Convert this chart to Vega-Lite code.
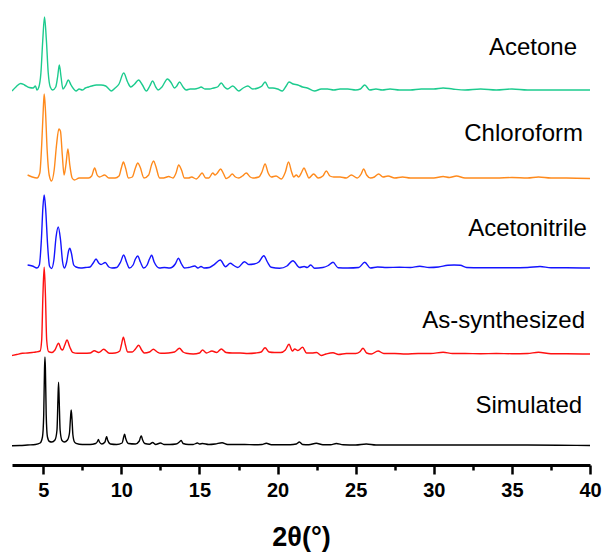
{
  "$schema": "https://vega.github.io/schema/vega-lite/v6.json",
  "autosize": {"type": "none"},
  "width": 578,
  "height": 455,
  "padding": {"left": 12, "top": 10, "right": 15, "bottom": 93},
  "background": "white",
  "config": {"view": {"stroke": null}, "font": "Liberation Sans"},
  "datasets": {
    "labels": [
      {"label": "Acetone", "x": 39.17, "y": 417},
      {"label": "Chloroform", "x": 39.55, "y": 331},
      {"label": "Acetonitrile", "x": 39.8, "y": 236},
      {"label": "As-synthesized", "x": 39.68, "y": 144},
      {"label": "Simulated", "x": 39.5, "y": 59}
    ],
    "xrd": [
      {"s":"Acetone","x":3.0,"y":374},{"s":"Acetone","x":3.25,"y":378},{"s":"Acetone","x":3.55,"y":381.5},{"s":"Acetone","x":3.8,"y":380},{"s":"Acetone","x":4.1,"y":377.5},{"s":"Acetone","x":4.35,"y":377},{"s":"Acetone","x":4.5,"y":379},{"s":"Acetone","x":4.6,"y":375},{"s":"Acetone","x":4.72,"y":378},{"s":"Acetone","x":4.85,"y":392},{"s":"Acetone","x":4.97,"y":425},{"s":"Acetone","x":5.08,"y":448},{"s":"Acetone","x":5.2,"y":425},{"s":"Acetone","x":5.32,"y":392},{"s":"Acetone","x":5.45,"y":378},{"s":"Acetone","x":5.6,"y":375},{"s":"Acetone","x":5.8,"y":378},{"s":"Acetone","x":5.92,"y":388},{"s":"Acetone","x":6.03,"y":400},{"s":"Acetone","x":6.14,"y":388},{"s":"Acetone","x":6.26,"y":376},{"s":"Acetone","x":6.45,"y":380},{"s":"Acetone","x":6.6,"y":385},{"s":"Acetone","x":6.78,"y":380},{"s":"Acetone","x":6.95,"y":376},{"s":"Acetone","x":7.1,"y":374},{"s":"Acetone","x":7.3,"y":376},{"s":"Acetone","x":7.5,"y":375},{"s":"Acetone","x":7.7,"y":377},{"s":"Acetone","x":7.9,"y":378},{"s":"Acetone","x":8.1,"y":379},{"s":"Acetone","x":8.4,"y":380},{"s":"Acetone","x":8.7,"y":380},{"s":"Acetone","x":9.0,"y":379},{"s":"Acetone","x":9.2,"y":376},{"s":"Acetone","x":9.35,"y":374},{"s":"Acetone","x":9.6,"y":377},{"s":"Acetone","x":9.85,"y":381},{"s":"Acetone","x":10.15,"y":392},{"s":"Acetone","x":10.4,"y":383},{"s":"Acetone","x":10.6,"y":378},{"s":"Acetone","x":10.85,"y":381},{"s":"Acetone","x":11.1,"y":385},{"s":"Acetone","x":11.35,"y":380},{"s":"Acetone","x":11.6,"y":374},{"s":"Acetone","x":11.82,"y":379},{"s":"Acetone","x":12.0,"y":384},{"s":"Acetone","x":12.2,"y":378},{"s":"Acetone","x":12.35,"y":375},{"s":"Acetone","x":12.6,"y":378},{"s":"Acetone","x":12.95,"y":386},{"s":"Acetone","x":13.2,"y":382},{"s":"Acetone","x":13.4,"y":377},{"s":"Acetone","x":13.55,"y":379},{"s":"Acetone","x":13.72,"y":383},{"s":"Acetone","x":13.95,"y":378},{"s":"Acetone","x":14.15,"y":375},{"s":"Acetone","x":14.4,"y":376},{"s":"Acetone","x":14.7,"y":376},{"s":"Acetone","x":14.95,"y":377},{"s":"Acetone","x":15.1,"y":378},{"s":"Acetone","x":15.35,"y":376},{"s":"Acetone","x":15.65,"y":376},{"s":"Acetone","x":15.9,"y":377},{"s":"Acetone","x":16.15,"y":378},{"s":"Acetone","x":16.4,"y":382},{"s":"Acetone","x":16.6,"y":378},{"s":"Acetone","x":16.8,"y":376},{"s":"Acetone","x":17.13,"y":379},{"s":"Acetone","x":17.52,"y":374},{"s":"Acetone","x":17.8,"y":377},{"s":"Acetone","x":18.1,"y":379},{"s":"Acetone","x":18.4,"y":376},{"s":"Acetone","x":18.75,"y":377},{"s":"Acetone","x":19.0,"y":379},{"s":"Acetone","x":19.2,"y":383},{"s":"Acetone","x":19.45,"y":377},{"s":"Acetone","x":19.7,"y":377},{"s":"Acetone","x":20.0,"y":376},{"s":"Acetone","x":20.3,"y":374},{"s":"Acetone","x":20.55,"y":379},{"s":"Acetone","x":20.73,"y":383},{"s":"Acetone","x":21.0,"y":381},{"s":"Acetone","x":21.3,"y":380},{"s":"Acetone","x":21.6,"y":378},{"s":"Acetone","x":21.9,"y":377},{"s":"Acetone","x":22.37,"y":374},{"s":"Acetone","x":22.8,"y":376},{"s":"Acetone","x":23.2,"y":376},{"s":"Acetone","x":23.6,"y":375},{"s":"Acetone","x":24.0,"y":376},{"s":"Acetone","x":24.5,"y":376},{"s":"Acetone","x":25.0,"y":375},{"s":"Acetone","x":25.3,"y":376},{"s":"Acetone","x":25.58,"y":380},{"s":"Acetone","x":25.9,"y":375},{"s":"Acetone","x":26.3,"y":376},{"s":"Acetone","x":26.7,"y":375},{"s":"Acetone","x":27.2,"y":376},{"s":"Acetone","x":27.8,"y":375},{"s":"Acetone","x":28.5,"y":375},{"s":"Acetone","x":29.2,"y":376},{"s":"Acetone","x":30.0,"y":376},{"s":"Acetone","x":30.6,"y":377},{"s":"Acetone","x":31.2,"y":376},{"s":"Acetone","x":32.0,"y":375},{"s":"Acetone","x":33.0,"y":376},{"s":"Acetone","x":34.0,"y":375},{"s":"Acetone","x":35.0,"y":376},{"s":"Acetone","x":36.0,"y":375},{"s":"Acetone","x":37.0,"y":375},{"s":"Acetone","x":38.0,"y":375},{"s":"Acetone","x":39.0,"y":375},{"s":"Acetone","x":40.0,"y":375},

      {"s":"Chloroform","x":4.0,"y":290},{"s":"Chloroform","x":4.3,"y":288},{"s":"Chloroform","x":4.6,"y":287},{"s":"Chloroform","x":4.78,"y":292},{"s":"Chloroform","x":4.9,"y":320},{"s":"Chloroform","x":5.0,"y":355},{"s":"Chloroform","x":5.06,"y":371},{"s":"Chloroform","x":5.14,"y":355},{"s":"Chloroform","x":5.25,"y":315},{"s":"Chloroform","x":5.38,"y":290},{"s":"Chloroform","x":5.53,"y":284},{"s":"Chloroform","x":5.7,"y":295},{"s":"Chloroform","x":5.85,"y":320},{"s":"Chloroform","x":6.0,"y":336},{"s":"Chloroform","x":6.1,"y":334},{"s":"Chloroform","x":6.22,"y":310},{"s":"Chloroform","x":6.33,"y":290},{"s":"Chloroform","x":6.45,"y":300},{"s":"Chloroform","x":6.58,"y":316},{"s":"Chloroform","x":6.7,"y":300},{"s":"Chloroform","x":6.85,"y":287},{"s":"Chloroform","x":7.0,"y":285},{"s":"Chloroform","x":7.3,"y":287},{"s":"Chloroform","x":7.6,"y":287},{"s":"Chloroform","x":7.9,"y":287},{"s":"Chloroform","x":8.1,"y":289},{"s":"Chloroform","x":8.29,"y":297},{"s":"Chloroform","x":8.45,"y":290},{"s":"Chloroform","x":8.6,"y":288},{"s":"Chloroform","x":8.93,"y":290},{"s":"Chloroform","x":9.2,"y":287},{"s":"Chloroform","x":9.6,"y":287},{"s":"Chloroform","x":9.85,"y":289},{"s":"Chloroform","x":10.0,"y":297},{"s":"Chloroform","x":10.13,"y":303},{"s":"Chloroform","x":10.27,"y":297},{"s":"Chloroform","x":10.45,"y":287},{"s":"Chloroform","x":10.7,"y":288},{"s":"Chloroform","x":10.9,"y":297},{"s":"Chloroform","x":11.05,"y":302},{"s":"Chloroform","x":11.2,"y":298},{"s":"Chloroform","x":11.45,"y":287},{"s":"Chloroform","x":11.75,"y":290},{"s":"Chloroform","x":11.95,"y":301},{"s":"Chloroform","x":12.07,"y":304},{"s":"Chloroform","x":12.2,"y":299},{"s":"Chloroform","x":12.45,"y":287},{"s":"Chloroform","x":12.7,"y":287},{"s":"Chloroform","x":13.03,"y":288.5},{"s":"Chloroform","x":13.3,"y":287},{"s":"Chloroform","x":13.5,"y":292},{"s":"Chloroform","x":13.67,"y":300},{"s":"Chloroform","x":13.85,"y":295},{"s":"Chloroform","x":14.04,"y":287},{"s":"Chloroform","x":14.3,"y":287},{"s":"Chloroform","x":14.5,"y":288},{"s":"Chloroform","x":14.8,"y":286},{"s":"Chloroform","x":15.0,"y":289},{"s":"Chloroform","x":15.17,"y":292},{"s":"Chloroform","x":15.4,"y":287},{"s":"Chloroform","x":15.6,"y":287},{"s":"Chloroform","x":15.85,"y":292},{"s":"Chloroform","x":16.0,"y":290},{"s":"Chloroform","x":16.15,"y":292},{"s":"Chloroform","x":16.35,"y":296},{"s":"Chloroform","x":16.55,"y":291},{"s":"Chloroform","x":16.71,"y":286.5},{"s":"Chloroform","x":16.9,"y":288},{"s":"Chloroform","x":17.1,"y":291},{"s":"Chloroform","x":17.3,"y":288},{"s":"Chloroform","x":17.52,"y":287},{"s":"Chloroform","x":17.75,"y":289},{"s":"Chloroform","x":18.0,"y":292},{"s":"Chloroform","x":18.25,"y":288},{"s":"Chloroform","x":18.42,"y":287},{"s":"Chloroform","x":18.8,"y":288},{"s":"Chloroform","x":19.0,"y":293},{"s":"Chloroform","x":19.2,"y":301},{"s":"Chloroform","x":19.4,"y":292},{"s":"Chloroform","x":19.6,"y":288},{"s":"Chloroform","x":19.9,"y":289},{"s":"Chloroform","x":20.24,"y":286},{"s":"Chloroform","x":20.5,"y":293},{"s":"Chloroform","x":20.7,"y":303},{"s":"Chloroform","x":20.9,"y":293},{"s":"Chloroform","x":21.03,"y":288},{"s":"Chloroform","x":21.2,"y":290},{"s":"Chloroform","x":21.35,"y":288},{"s":"Chloroform","x":21.55,"y":293},{"s":"Chloroform","x":21.69,"y":297},{"s":"Chloroform","x":21.85,"y":292},{"s":"Chloroform","x":22.0,"y":287},{"s":"Chloroform","x":22.31,"y":291},{"s":"Chloroform","x":22.6,"y":287},{"s":"Chloroform","x":22.9,"y":289},{"s":"Chloroform","x":23.12,"y":294},{"s":"Chloroform","x":23.35,"y":289},{"s":"Chloroform","x":23.6,"y":288},{"s":"Chloroform","x":24.0,"y":288},{"s":"Chloroform","x":24.4,"y":287},{"s":"Chloroform","x":24.72,"y":290},{"s":"Chloroform","x":25.1,"y":287},{"s":"Chloroform","x":25.35,"y":291},{"s":"Chloroform","x":25.51,"y":296},{"s":"Chloroform","x":25.7,"y":290},{"s":"Chloroform","x":25.95,"y":287},{"s":"Chloroform","x":26.2,"y":288},{"s":"Chloroform","x":26.47,"y":291},{"s":"Chloroform","x":26.75,"y":288},{"s":"Chloroform","x":27.07,"y":289},{"s":"Chloroform","x":27.5,"y":287},{"s":"Chloroform","x":28.0,"y":288},{"s":"Chloroform","x":28.5,"y":287},{"s":"Chloroform","x":29.2,"y":287},{"s":"Chloroform","x":30.0,"y":287},{"s":"Chloroform","x":30.6,"y":288.5},{"s":"Chloroform","x":31.0,"y":287.5},{"s":"Chloroform","x":31.45,"y":289},{"s":"Chloroform","x":32.0,"y":287},{"s":"Chloroform","x":33.0,"y":287},{"s":"Chloroform","x":34.0,"y":287},{"s":"Chloroform","x":35.0,"y":287.5},{"s":"Chloroform","x":36.0,"y":287},{"s":"Chloroform","x":36.7,"y":288},{"s":"Chloroform","x":37.5,"y":287},{"s":"Chloroform","x":38.5,"y":287},{"s":"Chloroform","x":40.0,"y":286.5},

      {"s":"Acetonitrile","x":4.0,"y":200},{"s":"Acetonitrile","x":4.3,"y":199},{"s":"Acetonitrile","x":4.6,"y":197},{"s":"Acetonitrile","x":4.75,"y":200},{"s":"Acetonitrile","x":4.88,"y":225},{"s":"Acetonitrile","x":4.98,"y":258},{"s":"Acetonitrile","x":5.06,"y":270},{"s":"Acetonitrile","x":5.15,"y":257},{"s":"Acetonitrile","x":5.28,"y":220},{"s":"Acetonitrile","x":5.4,"y":199},{"s":"Acetonitrile","x":5.53,"y":196.5},{"s":"Acetonitrile","x":5.68,"y":205},{"s":"Acetonitrile","x":5.82,"y":228},{"s":"Acetonitrile","x":5.96,"y":238},{"s":"Acetonitrile","x":6.1,"y":226},{"s":"Acetonitrile","x":6.24,"y":203},{"s":"Acetonitrile","x":6.35,"y":197},{"s":"Acetonitrile","x":6.5,"y":203},{"s":"Acetonitrile","x":6.62,"y":214},{"s":"Acetonitrile","x":6.7,"y":216.7},{"s":"Acetonitrile","x":6.8,"y":212},{"s":"Acetonitrile","x":6.95,"y":200},{"s":"Acetonitrile","x":7.1,"y":198},{"s":"Acetonitrile","x":7.4,"y":197},{"s":"Acetonitrile","x":7.7,"y":197.5},{"s":"Acetonitrile","x":8.0,"y":198},{"s":"Acetonitrile","x":8.2,"y":202},{"s":"Acetonitrile","x":8.38,"y":206},{"s":"Acetonitrile","x":8.55,"y":202},{"s":"Acetonitrile","x":8.7,"y":200.5},{"s":"Acetonitrile","x":8.97,"y":202.5},{"s":"Acetonitrile","x":9.2,"y":198},{"s":"Acetonitrile","x":9.4,"y":197},{"s":"Acetonitrile","x":9.7,"y":197.5},{"s":"Acetonitrile","x":9.95,"y":203},{"s":"Acetonitrile","x":10.15,"y":210},{"s":"Acetonitrile","x":10.33,"y":203},{"s":"Acetonitrile","x":10.51,"y":197},{"s":"Acetonitrile","x":10.75,"y":200},{"s":"Acetonitrile","x":10.9,"y":206},{"s":"Acetonitrile","x":11.05,"y":209},{"s":"Acetonitrile","x":11.22,"y":203},{"s":"Acetonitrile","x":11.43,"y":197},{"s":"Acetonitrile","x":11.65,"y":200},{"s":"Acetonitrile","x":11.8,"y":206},{"s":"Acetonitrile","x":11.94,"y":209.7},{"s":"Acetonitrile","x":12.1,"y":203},{"s":"Acetonitrile","x":12.44,"y":197},{"s":"Acetonitrile","x":12.75,"y":197.5},{"s":"Acetonitrile","x":13.1,"y":197},{"s":"Acetonitrile","x":13.45,"y":201},{"s":"Acetonitrile","x":13.65,"y":206.7},{"s":"Acetonitrile","x":13.85,"y":201},{"s":"Acetonitrile","x":14.04,"y":197},{"s":"Acetonitrile","x":14.3,"y":197.5},{"s":"Acetonitrile","x":14.7,"y":199},{"s":"Acetonitrile","x":14.9,"y":197},{"s":"Acetonitrile","x":15.1,"y":198.5},{"s":"Acetonitrile","x":15.3,"y":197},{"s":"Acetonitrile","x":15.64,"y":197.5},{"s":"Acetonitrile","x":15.96,"y":200.7},{"s":"Acetonitrile","x":16.33,"y":205},{"s":"Acetonitrile","x":16.67,"y":198.3},{"s":"Acetonitrile","x":16.97,"y":201.7},{"s":"Acetonitrile","x":17.2,"y":199.5},{"s":"Acetonitrile","x":17.46,"y":197.5},{"s":"Acetonitrile","x":17.88,"y":203.3},{"s":"Acetonitrile","x":18.15,"y":200.5},{"s":"Acetonitrile","x":18.5,"y":201},{"s":"Acetonitrile","x":18.8,"y":203},{"s":"Acetonitrile","x":19.12,"y":209.3},{"s":"Acetonitrile","x":19.35,"y":203},{"s":"Acetonitrile","x":19.59,"y":197.7},{"s":"Acetonitrile","x":20.13,"y":196.7},{"s":"Acetonitrile","x":20.6,"y":199},{"s":"Acetonitrile","x":20.98,"y":204.3},{"s":"Acetonitrile","x":21.41,"y":197.5},{"s":"Acetonitrile","x":21.7,"y":198.5},{"s":"Acetonitrile","x":21.9,"y":197.5},{"s":"Acetonitrile","x":22.12,"y":200},{"s":"Acetonitrile","x":22.37,"y":196.7},{"s":"Acetonitrile","x":22.9,"y":197.5},{"s":"Acetonitrile","x":23.25,"y":199.5},{"s":"Acetonitrile","x":23.55,"y":202.7},{"s":"Acetonitrile","x":23.87,"y":197.3},{"s":"Acetonitrile","x":24.5,"y":197},{"s":"Acetonitrile","x":25.2,"y":197.5},{"s":"Acetonitrile","x":25.58,"y":202.7},{"s":"Acetonitrile","x":25.94,"y":197},{"s":"Acetonitrile","x":26.4,"y":198},{"s":"Acetonitrile","x":27.0,"y":197.5},{"s":"Acetonitrile","x":27.8,"y":197.7},{"s":"Acetonitrile","x":28.5,"y":197.5},{"s":"Acetonitrile","x":29.1,"y":198.7},{"s":"Acetonitrile","x":29.7,"y":197.5},{"s":"Acetonitrile","x":30.3,"y":198},{"s":"Acetonitrile","x":30.9,"y":199.7},{"s":"Acetonitrile","x":31.3,"y":200},{"s":"Acetonitrile","x":31.7,"y":199.7},{"s":"Acetonitrile","x":32.1,"y":197.5},{"s":"Acetonitrile","x":33.0,"y":197.3},{"s":"Acetonitrile","x":34.0,"y":197.3},{"s":"Acetonitrile","x":35.0,"y":197.3},{"s":"Acetonitrile","x":36.0,"y":197.5},{"s":"Acetonitrile","x":36.8,"y":198.5},{"s":"Acetonitrile","x":37.5,"y":197.3},{"s":"Acetonitrile","x":38.5,"y":197.3},{"s":"Acetonitrile","x":40.0,"y":197},

      {"s":"As-synthesized","x":3.0,"y":109.5},{"s":"As-synthesized","x":3.3,"y":110.5},{"s":"As-synthesized","x":3.67,"y":111.7},{"s":"As-synthesized","x":4.0,"y":112},{"s":"As-synthesized","x":4.3,"y":112.5},{"s":"As-synthesized","x":4.53,"y":113},{"s":"As-synthesized","x":4.8,"y":114},{"s":"As-synthesized","x":4.9,"y":125},{"s":"As-synthesized","x":4.98,"y":170},{"s":"As-synthesized","x":5.06,"y":197.7},{"s":"As-synthesized","x":5.14,"y":170},{"s":"As-synthesized","x":5.22,"y":125},{"s":"As-synthesized","x":5.34,"y":113.3},{"s":"As-synthesized","x":5.55,"y":112.5},{"s":"As-synthesized","x":5.75,"y":115},{"s":"As-synthesized","x":5.98,"y":121.7},{"s":"As-synthesized","x":6.14,"y":116},{"s":"As-synthesized","x":6.24,"y":115},{"s":"As-synthesized","x":6.38,"y":120},{"s":"As-synthesized","x":6.52,"y":125},{"s":"As-synthesized","x":6.7,"y":118},{"s":"As-synthesized","x":6.88,"y":112.7},{"s":"As-synthesized","x":7.2,"y":111.7},{"s":"As-synthesized","x":7.6,"y":111.7},{"s":"As-synthesized","x":8.0,"y":112},{"s":"As-synthesized","x":8.27,"y":114.3},{"s":"As-synthesized","x":8.55,"y":112.5},{"s":"As-synthesized","x":8.87,"y":115.7},{"s":"As-synthesized","x":9.23,"y":111.7},{"s":"As-synthesized","x":9.6,"y":112},{"s":"As-synthesized","x":9.9,"y":114},{"s":"As-synthesized","x":10.0,"y":120},{"s":"As-synthesized","x":10.13,"y":127.7},{"s":"As-synthesized","x":10.26,"y":120},{"s":"As-synthesized","x":10.4,"y":113},{"s":"As-synthesized","x":10.7,"y":113},{"s":"As-synthesized","x":10.9,"y":116},{"s":"As-synthesized","x":11.11,"y":119.7},{"s":"As-synthesized","x":11.3,"y":115},{"s":"As-synthesized","x":11.47,"y":112},{"s":"As-synthesized","x":11.8,"y":113},{"s":"As-synthesized","x":12.05,"y":115.7},{"s":"As-synthesized","x":12.3,"y":113},{"s":"As-synthesized","x":12.54,"y":111.7},{"s":"As-synthesized","x":13.0,"y":112},{"s":"As-synthesized","x":13.4,"y":113},{"s":"As-synthesized","x":13.72,"y":116.7},{"s":"As-synthesized","x":13.95,"y":113},{"s":"As-synthesized","x":14.15,"y":111.7},{"s":"As-synthesized","x":14.6,"y":111},{"s":"As-synthesized","x":15.0,"y":112},{"s":"As-synthesized","x":15.2,"y":115},{"s":"As-synthesized","x":15.45,"y":112},{"s":"As-synthesized","x":15.8,"y":114},{"s":"As-synthesized","x":16.1,"y":112.5},{"s":"As-synthesized","x":16.4,"y":116},{"s":"As-synthesized","x":16.7,"y":112.5},{"s":"As-synthesized","x":17.1,"y":112},{"s":"As-synthesized","x":17.6,"y":112},{"s":"As-synthesized","x":18.1,"y":111.5},{"s":"As-synthesized","x":18.6,"y":112},{"s":"As-synthesized","x":18.95,"y":113},{"s":"As-synthesized","x":19.2,"y":117.3},{"s":"As-synthesized","x":19.45,"y":113},{"s":"As-synthesized","x":19.8,"y":112.5},{"s":"As-synthesized","x":20.2,"y":112.5},{"s":"As-synthesized","x":20.5,"y":115},{"s":"As-synthesized","x":20.73,"y":120.7},{"s":"As-synthesized","x":20.95,"y":114},{"s":"As-synthesized","x":21.1,"y":116},{"s":"As-synthesized","x":21.3,"y":114.5},{"s":"As-synthesized","x":21.6,"y":117.7},{"s":"As-synthesized","x":21.85,"y":112},{"s":"As-synthesized","x":22.2,"y":112},{"s":"As-synthesized","x":22.5,"y":112.5},{"s":"As-synthesized","x":22.8,"y":109.5},{"s":"As-synthesized","x":23.1,"y":111},{"s":"As-synthesized","x":23.55,"y":112.3},{"s":"As-synthesized","x":23.9,"y":110.5},{"s":"As-synthesized","x":24.4,"y":111.5},{"s":"As-synthesized","x":25.0,"y":111.5},{"s":"As-synthesized","x":25.25,"y":113},{"s":"As-synthesized","x":25.47,"y":116.7},{"s":"As-synthesized","x":25.7,"y":112},{"s":"As-synthesized","x":26.0,"y":111},{"s":"As-synthesized","x":26.43,"y":114},{"s":"As-synthesized","x":26.8,"y":111.5},{"s":"As-synthesized","x":27.5,"y":111.5},{"s":"As-synthesized","x":28.2,"y":111},{"s":"As-synthesized","x":29.0,"y":111.5},{"s":"As-synthesized","x":29.8,"y":111.5},{"s":"As-synthesized","x":30.6,"y":112.7},{"s":"As-synthesized","x":31.2,"y":111.5},{"s":"As-synthesized","x":32.0,"y":111.5},{"s":"As-synthesized","x":33.0,"y":111.3},{"s":"As-synthesized","x":34.0,"y":111.5},{"s":"As-synthesized","x":35.0,"y":111.3},{"s":"As-synthesized","x":36.0,"y":111.5},{"s":"As-synthesized","x":36.7,"y":112.7},{"s":"As-synthesized","x":37.5,"y":111.3},{"s":"As-synthesized","x":38.5,"y":111.3},{"s":"As-synthesized","x":40.0,"y":111},

      {"s":"Simulated","x":3.0,"y":19.3},{"s":"Simulated","x":3.5,"y":19.5},{"s":"Simulated","x":4.0,"y":20},{"s":"Simulated","x":4.5,"y":20.5},{"s":"Simulated","x":4.8,"y":22},{"s":"Simulated","x":4.95,"y":28},{"s":"Simulated","x":5.03,"y":50},{"s":"Simulated","x":5.08,"y":95},{"s":"Simulated","x":5.11,"y":108},{"s":"Simulated","x":5.14,"y":95},{"s":"Simulated","x":5.19,"y":50},{"s":"Simulated","x":5.27,"y":28},{"s":"Simulated","x":5.4,"y":23.5},{"s":"Simulated","x":5.55,"y":23},{"s":"Simulated","x":5.75,"y":25},{"s":"Simulated","x":5.88,"y":35},{"s":"Simulated","x":5.94,"y":65},{"s":"Simulated","x":5.98,"y":82.7},{"s":"Simulated","x":6.02,"y":65},{"s":"Simulated","x":6.08,"y":35},{"s":"Simulated","x":6.2,"y":24.5},{"s":"Simulated","x":6.35,"y":23},{"s":"Simulated","x":6.55,"y":25},{"s":"Simulated","x":6.68,"y":32},{"s":"Simulated","x":6.74,"y":46},{"s":"Simulated","x":6.79,"y":55},{"s":"Simulated","x":6.84,"y":46},{"s":"Simulated","x":6.9,"y":30},{"s":"Simulated","x":7.0,"y":23},{"s":"Simulated","x":7.1,"y":21.7},{"s":"Simulated","x":7.5,"y":20.5},{"s":"Simulated","x":8.0,"y":20.5},{"s":"Simulated","x":8.35,"y":21.5},{"s":"Simulated","x":8.47,"y":23.5},{"s":"Simulated","x":8.53,"y":25.5},{"s":"Simulated","x":8.6,"y":23},{"s":"Simulated","x":8.75,"y":21},{"s":"Simulated","x":8.95,"y":23},{"s":"Simulated","x":9.02,"y":27},{"s":"Simulated","x":9.06,"y":28.3},{"s":"Simulated","x":9.12,"y":25},{"s":"Simulated","x":9.3,"y":21},{"s":"Simulated","x":9.7,"y":20.5},{"s":"Simulated","x":10.05,"y":22},{"s":"Simulated","x":10.15,"y":28},{"s":"Simulated","x":10.21,"y":30.7},{"s":"Simulated","x":10.28,"y":26.5},{"s":"Simulated","x":10.45,"y":21.5},{"s":"Simulated","x":10.9,"y":21},{"s":"Simulated","x":11.15,"y":24},{"s":"Simulated","x":11.23,"y":28},{"s":"Simulated","x":11.28,"y":29},{"s":"Simulated","x":11.35,"y":25.5},{"s":"Simulated","x":11.5,"y":21.5},{"s":"Simulated","x":11.8,"y":20.8},{"s":"Simulated","x":12.0,"y":22.5},{"s":"Simulated","x":12.2,"y":20.5},{"s":"Simulated","x":12.5,"y":22},{"s":"Simulated","x":12.75,"y":20.5},{"s":"Simulated","x":13.1,"y":20.5},{"s":"Simulated","x":13.5,"y":21},{"s":"Simulated","x":13.75,"y":23.5},{"s":"Simulated","x":13.83,"y":24.5},{"s":"Simulated","x":13.95,"y":21.5},{"s":"Simulated","x":14.3,"y":20.5},{"s":"Simulated","x":14.6,"y":20.5},{"s":"Simulated","x":14.87,"y":22},{"s":"Simulated","x":15.0,"y":21},{"s":"Simulated","x":15.2,"y":21.5},{"s":"Simulated","x":15.6,"y":20.5},{"s":"Simulated","x":16.0,"y":21},{"s":"Simulated","x":16.45,"y":22.3},{"s":"Simulated","x":16.8,"y":20.5},{"s":"Simulated","x":17.3,"y":20.5},{"s":"Simulated","x":17.9,"y":20.5},{"s":"Simulated","x":18.5,"y":20.3},{"s":"Simulated","x":19.0,"y":20.5},{"s":"Simulated","x":19.28,"y":21.7},{"s":"Simulated","x":19.6,"y":20.3},{"s":"Simulated","x":20.2,"y":20.3},{"s":"Simulated","x":20.8,"y":20.3},{"s":"Simulated","x":21.2,"y":21},{"s":"Simulated","x":21.4,"y":23},{"s":"Simulated","x":21.6,"y":20.5},{"s":"Simulated","x":22.0,"y":20.3},{"s":"Simulated","x":22.48,"y":21.7},{"s":"Simulated","x":22.9,"y":20.3},{"s":"Simulated","x":23.4,"y":20.3},{"s":"Simulated","x":23.76,"y":21.5},{"s":"Simulated","x":24.2,"y":20.2},{"s":"Simulated","x":25.0,"y":20},{"s":"Simulated","x":25.68,"y":21},{"s":"Simulated","x":26.3,"y":20},{"s":"Simulated","x":27.5,"y":20},{"s":"Simulated","x":29.0,"y":20},{"s":"Simulated","x":30.5,"y":20},{"s":"Simulated","x":32.0,"y":20},{"s":"Simulated","x":34.0,"y":20},{"s":"Simulated","x":36.0,"y":20},{"s":"Simulated","x":38.0,"y":19.8},{"s":"Simulated","x":40.0,"y":19.5}
    ]
  },
  "layer": [
    {
      "data": {"name": "xrd"},
      "mark": {"type": "line", "interpolate": "monotone", "strokeWidth": 1.4, "clip": true},
      "encoding": {
        "x": {
          "field": "x", "type": "quantitative",
          "scale": {"domain": [3, 40], "nice": false, "zero": false},
          "axis": {
            "orient": "bottom",
            "values": [5, 10, 15, 20, 25, 30, 35, 40],
            "title": "2θ(°)",
            "titleFontSize": 27, "titleFontWeight": "bold", "titleColor": "black", "titlePadding": 24,
            "titleFont": "Liberation Sans",
            "labelFont": "Liberation Sans",
            "labelFontSize": 20, "labelFontWeight": "bold", "labelColor": "black", "labelPadding": 6,
            "labelFlush": false, "labelOverlap": false,
            "tickSize": 9, "tickWidth": 2.5, "tickColor": "black",
            "domainWidth": 3, "domainColor": "black",
            "grid": false
          }
        },
        "y": {"field": "y", "type": "quantitative", "scale": {"domain": [0, 455], "zero": false, "nice": false}, "axis": null},
        "color": {
          "field": "s", "type": "nominal",
          "scale": {"domain": ["Acetone", "Chloroform", "Acetonitrile", "As-synthesized", "Simulated"], "range": ["#1ccb8e", "#ff8a1c", "#1414ff", "#ff1010", "#000000"]},
          "legend": null
        },
        "detail": {"field": "s"}
      }
    },
    {
      "data": {"name": "labels"},
      "mark": {"type": "text", "align": "right", "baseline": "middle", "fontSize": 24, "font": "Liberation Sans", "color": "black"},
      "encoding": {
        "x": {
          "field": "x", "type": "quantitative",
          "axis": {
            "orient": "bottom",
            "values": [7.5, 12.5, 17.5, 22.5, 27.5, 32.5, 37.5],
            "labels": false, "domain": false, "title": null, "grid": false,
            "tickSize": 5, "tickWidth": 2.5, "tickColor": "black"
          }
        },
        "y": {"field": "y", "type": "quantitative"},
        "text": {"field": "label"}
      }
    }
  ],
  "resolve": {"axis": {"x": "independent"}}
}
